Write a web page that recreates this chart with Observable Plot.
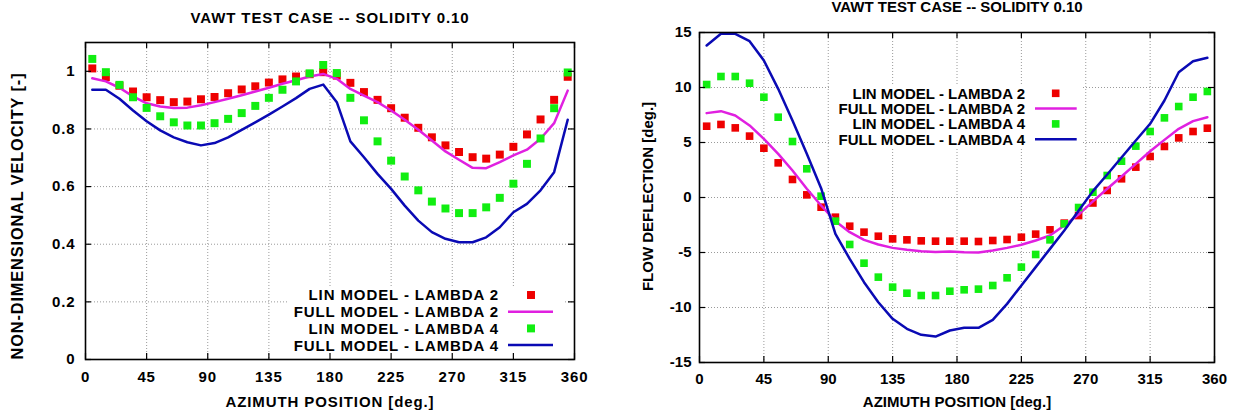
<!DOCTYPE html>
<html><head><meta charset="utf-8">
<script src="https://cdn.jsdelivr.net/npm/d3@7"></script>
<script src="https://cdn.jsdelivr.net/npm/@observablehq/plot@0.6"></script>
<style>
html,body{margin:0;padding:0;background:#fff;width:1242px;height:415px;overflow:hidden}
#wrap{position:relative;width:1242px;height:415px}
.panel{position:absolute;top:0}
svg text{font-family:"Liberation Sans",Arial,Helvetica,sans-serif;font-weight:bold}
</style></head>
<body><div id="wrap"><div id="left" class="panel" style="left:0"></div><div id="right" class="panel" style="left:620px"></div></div>
<script>
// ---------------- data ----------------
const title = "VAWT TEST CASE -- SOLIDITY 0.10";
const xLabel = "AZIMUTH POSITION [deg.]";
const yLabelVelocity = "NON-DIMENSIONAL VELOCITY [-]";
const yLabelDeflection = "FLOW DEFLECTION [deg.]";
const xTicks = [0, 45, 90, 135, 180, 225, 270, 315, 360];
const velocityTicks = [0, 0.2, 0.4, 0.6, 0.8, 1];
const deflectionTicks = [-15, -10, -5, 0, 5, 10, 15];
const seriesNames = ["LIN MODEL - LAMBDA 2", "FULL MODEL - LAMBDA 2", "LIN MODEL - LAMBDA 4", "FULL MODEL - LAMBDA 4"];
const seriesColors = ["#ee0000", "#e020e0", "#11ee11", "#0a0ab4"];
const seriesKinds = ["square", "line", "square", "line"];

const azimuth = [5, 15, 25, 35, 45, 55, 65, 75, 85, 95, 105, 115, 125, 135, 145, 155, 165, 175,
  185, 195, 205, 215, 225, 235, 245, 255, 265, 275, 285, 295, 305, 315, 325, 335, 345, 355];

// non-dimensional velocity
const velLinL2 = [1.01, 0.98, 0.95, 0.93, 0.91, 0.90, 0.893, 0.895, 0.903, 0.911, 0.924, 0.937, 0.948, 0.961, 0.972, 0.982, 0.99, 0.997,
  0.985, 0.960, 0.928, 0.901, 0.872, 0.839, 0.804, 0.771, 0.743, 0.720, 0.702, 0.697, 0.711, 0.738, 0.781, 0.833, 0.901, 0.981];
const velFullL2 = [0.976, 0.965, 0.943, 0.913, 0.889, 0.878, 0.873, 0.874, 0.882, 0.893, 0.905, 0.917, 0.930, 0.943, 0.957, 0.969, 0.982, 0.991,
  0.974, 0.939, 0.916, 0.893, 0.864, 0.832, 0.797, 0.760, 0.722, 0.693, 0.665, 0.664, 0.685, 0.708, 0.728, 0.766, 0.820, 0.933];
const velLinL4 = [1.043, 0.997, 0.953, 0.910, 0.873, 0.844, 0.823, 0.812, 0.812, 0.820, 0.835, 0.855, 0.880, 0.908, 0.936, 0.965, 0.993, 1.022,
  0.994, 0.908, 0.830, 0.757, 0.690, 0.635, 0.587, 0.548, 0.524, 0.508, 0.508, 0.528, 0.561, 0.610, 0.679, 0.767, 0.872, 0.996];
const velFullL4 = [0.936, 0.936, 0.905, 0.864, 0.827, 0.795, 0.771, 0.754, 0.743, 0.751, 0.771, 0.797, 0.823, 0.850, 0.878, 0.907, 0.939, 0.954,
  0.893, 0.757, 0.702, 0.644, 0.592, 0.534, 0.482, 0.442, 0.419, 0.407, 0.407, 0.424, 0.459, 0.511, 0.540, 0.587, 0.650, 0.832];

// flow deflection [deg.]
const defLinL2 = [6.48, 6.64, 6.33, 5.58, 4.48, 3.15, 1.64, 0.24, -0.88, -1.79, -2.61, -3.15, -3.52, -3.76, -3.85, -3.94, -3.97, -3.97,
  -3.97, -4.0, -3.91, -3.82, -3.61, -3.33, -2.94, -2.33, -1.64, -0.5, 0.64, 1.70, 2.76, 3.73, 4.64, 5.42, 6.0, 6.30];
const defFullL2 = [7.67, 7.85, 7.45, 6.55, 5.33, 3.97, 2.45, 0.79, -0.73, -2.15, -3.15, -3.85, -4.27, -4.58, -4.76, -4.88, -4.95, -4.91,
  -4.97, -5.0, -4.82, -4.58, -4.3, -3.91, -3.45, -2.55, -1.55, -0.35, 0.79, 1.91, 3.06, 4.21, 5.24, 6.24, 6.94, 7.30];
const defLinL4 = [10.27, 11.0, 11.0, 10.39, 9.12, 7.30, 5.09, 2.61, 0.12, -2.15, -4.27, -5.97, -7.24, -8.15, -8.7, -8.91, -8.91, -8.52,
  -8.39, -8.33, -8.0, -7.3, -6.33, -5.18, -3.85, -2.39, -0.91, 0.48, 2.0, 3.3, 4.67, 6.0, 7.24, 8.27, 9.12, 9.64];
const defFullL4 = [13.82, 14.88, 14.88, 14.21, 12.45, 9.88, 7.0, 3.97, 0.85, -3.3, -5.58, -7.7, -9.52, -11.03, -11.94, -12.48, -12.64, -12.09,
  -11.85, -11.85, -11.12, -9.67, -8.0, -6.33, -4.67, -3.0, -1.2, 0.58, 2.09, 3.64, 5.18, 6.70, 8.82, 11.39, 12.39, 12.7];

// ---------------- drawing ----------------
const H = 415;

function makePanel(cfg) {
  const innerW = cfg.width - cfg.ml - cfg.mr;
  const innerH = H - cfg.mt - cfg.mb;
  const rows = ys => azimuth.map((a, i) => ({a, v: ys[i]}));
  const grid = {stroke: "#9a9a9a", strokeOpacity: 1, strokeWidth: 1, strokeDasharray: "1,2"};
  const tick = {stroke: "#000", strokeWidth: 1.2};
  const dataMarks = cfg.series.map((ys, i) => seriesKinds[i] === "square"
    ? Plot.dot(rows(ys), {x: "a", y: "v", symbol: "square", r: cfg.r, fill: seriesColors[i]})
    : Plot.line(rows(ys), {x: "a", y: "v", stroke: seriesColors[i], strokeWidth: 2.5}));
  const node = Plot.plot({
    width: cfg.width, height: H,
    marginLeft: cfg.ml, marginRight: cfg.mr, marginTop: cfg.mt, marginBottom: cfg.mb,
    x: {domain: [0, 360]},
    y: {domain: cfg.yDomain},
    style: {fontSize: cfg.fs + "px", color: "#000", background: "#fff", letterSpacing: cfg.ls + "px", overflow: "visible"},
    marks: [
      Plot.ruleX(xTicks, {x: d => d, ...grid}),
      Plot.ruleY(cfg.yTicks, {y: d => d, ...grid}),
      ...dataMarks,
      Plot.frame({stroke: "#000", strokeWidth: 1.6}),
      Plot.ruleX(xTicks, {x: d => d, insetTop: innerH - 6, ...tick}),
      Plot.ruleX(xTicks, {x: d => d, insetBottom: innerH - 6, ...tick}),
      Plot.ruleY(cfg.yTicks, {y: d => d, insetRight: innerW - 6, ...tick}),
      Plot.ruleY(cfg.yTicks, {y: d => d, insetLeft: innerW - 6, ...tick}),
      Plot.axisX({ticks: xTicks, tickSize: 0, tickPadding: cfg.xPad, label: null, tickFormat: d => String(d), fontSize: cfg.fs}),
      Plot.axisY({ticks: cfg.yTicks, tickSize: 0, tickPadding: cfg.yPad, label: null, tickFormat: d => String(d), fontSize: cfg.fs}),
      Plot.text([title], {text: d => d, frameAnchor: "top", dy: cfg.titleDy, textAnchor: "middle", lineAnchor: "middle", fontSize: cfg.fs}),
      Plot.text([xLabel], {text: d => d, frameAnchor: "bottom", dy: cfg.xLabelDy, textAnchor: "middle", lineAnchor: "middle", fontSize: cfg.fs}),
      Plot.text([cfg.yLabel], {text: d => d, frameAnchor: "left", dx: cfg.yLabelDx, dy: cfg.yLabelDy, rotate: -90, textAnchor: "middle", lineAnchor: "middle", fontSize: cfg.yLabelFs})
    ]
  });
  const svgNode = node.tagName.toLowerCase() === "svg" ? node : node.querySelector("svg");
  addLegend(svgNode, cfg);
  document.getElementById(cfg.id).appendChild(node);
}

function addLegend(svgNode, cfg) {
  const L = cfg.legend;
  const g = d3.create("svg:g").attr("aria-label", "legend");
  g.append("rect").attr("x", L.box[0]).attr("y", L.box[1])
    .attr("width", L.box[2] - L.box[0]).attr("height", L.box[3] - L.box[1]).attr("fill", "#fff");
  seriesNames.forEach((name, i) => {
    const y = L.y0 + i * L.dy;
    g.append("text").attr("x", L.textX).attr("y", y).attr("dy", "0.36em")
      .attr("text-anchor", "end").attr("font-size", cfg.fs).attr("fill", "#000").text(name);
    if (seriesKinds[i] === "square") {
      const s = cfg.r * 1.77;
      g.append("rect").attr("x", L.symX - s / 2).attr("y", y - s / 2)
        .attr("width", s).attr("height", s).attr("fill", seriesColors[i]);
    } else {
      g.append("line").attr("x1", L.lineX1).attr("x2", L.lineX2).attr("y1", y).attr("y2", y)
        .attr("stroke", seriesColors[i]).attr("stroke-width", 2.5);
    }
  });
  const before = svgNode.querySelector('g[aria-label="dot"], g[aria-label="line"]');
  svgNode.insertBefore(g.node(), before);
}

makePanel({
  id: "left", width: 620, ml: 85, mr: 46, mt: 42, mb: 56,
  yDomain: [0, 1.1], yTicks: velocityTicks, yLabel: yLabelVelocity,
  series: [velLinL2, velFullL2, velLinL4, velFullL4],
  fs: 15, ls: 0.9, r: 4.5, xPad: 12, yPad: 10,
  titleDy: -24, xLabelDy: 43, yLabelDx: -68, yLabelDy: 15, yLabelFs: 16.3,
  legend: {box: [287, 287, 565, 358], textX: 499, y0: 295, dy: 16.7, symX: 531, lineX1: 508, lineX2: 553}
});

makePanel({
  id: "right", width: 622, ml: 79, mr: 28, mt: 32, mb: 53,
  yDomain: [-15, 15], yTicks: deflectionTicks, yLabel: yLabelDeflection,
  series: [defLinL2, defFullL2, defLinL4, defFullL4],
  fs: 15, ls: 0, r: 4.3, xPad: 11, yPad: 8,
  titleDy: -25, xLabelDy: 40, yLabelDx: -51.5, yLabelDy: -1, yLabelFs: 15,
  legend: {box: [210, 84, 463, 148], textX: 405, y0: 93.3, dy: 15.3, symX: 435.7, lineX1: 415, lineX2: 456.7}
});
</script>
</body></html>
